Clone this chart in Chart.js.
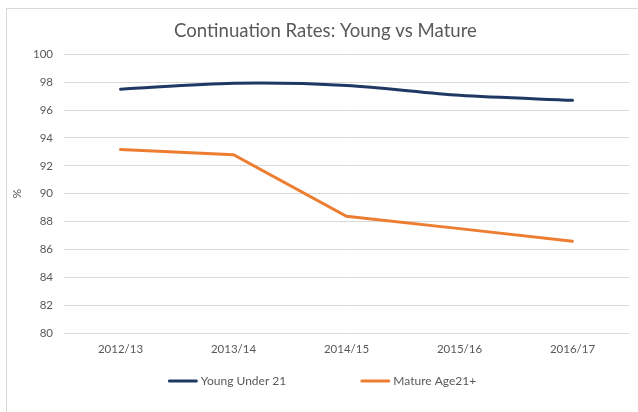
<!DOCTYPE html>
<html>
<head>
<meta charset="utf-8">
<script src="https://cdn.jsdelivr.net/npm/chart.js@4/dist/chart.umd.min.js"></script>
<style>
  html, body { margin: 0; padding: 0; background: #ffffff; overflow: hidden; }
  #wrap { position: relative; width: 638px; height: 412px; }
  #frame { position: absolute; left: 6px; top: 8px; width: 700px; height: 500px;
           border: 1px solid #d9d9d9; box-sizing: border-box; pointer-events: none; }
  canvas { position: absolute; left: 0; top: 0; }
</style>
</head>
<body>
<div id="wrap">
  <div id="frame"></div>
  <canvas id="c" width="638" height="412"></canvas>
</div>
<script>
const categories = ['2012/13', '2013/14', '2014/15', '2015/16', '2016/17'];
const youngUnder21 = [97.5, 97.92, 97.77, 97.06, 96.7];
const matureAge21 = [93.18, 92.8, 88.38, 87.5, 86.6];
const seriesNames = ['Young Under 21', 'Mature Age21+'];
const yTicks = [80, 82, 84, 86, 88, 90, 92, 94, 96, 98, 100];

const textColor = '#595959';
const FONT = 'Lato, "Open Sans", sans-serif';

// Excel-style legend: short line sample, small gap, centred below the plot
const excelLegend = {
  id: 'excelLegend',
  afterDraw(chart) {
    const ctx = chart.ctx;
    const sample = 30, gapText = 3, gapItems = 74, cy = 381, centerX = 322;
    ctx.save();
    ctx.font = '12px ' + FONT;
    const items = chart.data.datasets.map(ds => ({
      text: ds.label, color: ds.borderColor, w: ctx.measureText(ds.label).width
    }));
    const total = items.reduce((s, it) => s + sample + gapText + it.w, 0) + gapItems * (items.length - 1);
    let x = centerX - total / 2;
    items.forEach(it => {
      ctx.strokeStyle = it.color;
      ctx.lineWidth = 3;
      ctx.lineCap = 'round';
      ctx.beginPath();
      ctx.moveTo(x + 1.5, cy);
      ctx.lineTo(x + sample - 1.5, cy);
      ctx.stroke();
      ctx.fillStyle = textColor;
      ctx.textBaseline = 'middle';
      ctx.textAlign = 'left';
      ctx.fillText(it.text, x + sample + gapText, cy);
      x += sample + gapText + it.w + gapItems;
    });
    ctx.restore();
  }
};

new Chart(document.getElementById('c'), {
  type: 'line',
  data: {
    labels: categories,
    datasets: [
      {
        label: seriesNames[0],
        data: youngUnder21,
        borderColor: '#203864',
        backgroundColor: '#203864',
        borderWidth: 3,
        pointRadius: 0,
        tension: 0.3,
        borderCapStyle: 'round'
      },
      {
        label: seriesNames[1],
        data: matureAge21,
        borderColor: '#ED7D31',
        backgroundColor: '#ED7D31',
        borderWidth: 3,
        pointRadius: 0,
        tension: 0,
        borderCapStyle: 'round'
      }
    ]
  },
  plugins: [excelLegend],
  options: {
    responsive: false,
    animation: false,
    devicePixelRatio: 1,
    layout: { padding: { left: 22, right: 9, top: 0, bottom: 47 } },
    plugins: {
      title: {
        display: true,
        text: 'Continuation Rates: Young vs Mature',
        color: textColor,
        font: { family: FONT, size: 18.6, weight: 'normal' },
        padding: { top: 20, bottom: 12 }
      },
      legend: { display: false },
      tooltip: { enabled: false }
    },
    scales: {
      x: {
        offset: true,
        grid: { display: false, drawTicks: false },
        border: { display: false },
        ticks: { color: textColor, font: { family: FONT, size: 11.5 }, padding: 9, maxRotation: 0 }
      },
      y: {
        min: yTicks[0],
        max: yTicks[yTicks.length - 1],
        afterBuildTicks: (scale) => { scale.ticks = yTicks.map(v => ({ value: v })); },
        afterFit: (scale) => { scale.width = 42; },
        grid: { color: '#d9d9d9', lineWidth: 1, drawTicks: false },
        border: { display: false },
        ticks: { color: textColor, font: { family: FONT, size: 11.5 }, padding: 11 },
        title: {
          display: true,
          text: '%',
          color: textColor,
          font: { family: FONT, size: 12 },
          padding: { top: -12, bottom: 0 }
        }
      }
    }
  }
});
</script>
</body>
</html>
